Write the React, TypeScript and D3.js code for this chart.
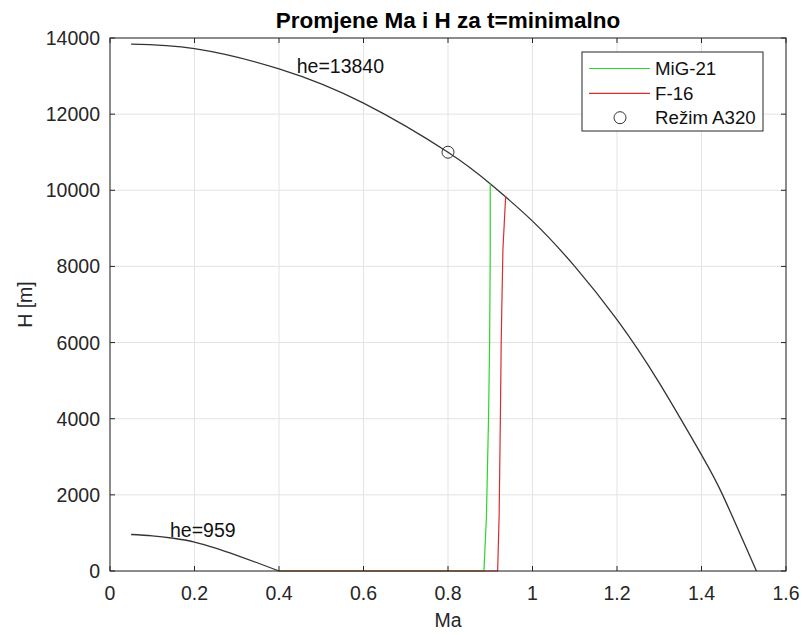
import React from "react";
import * as d3 from "d3";

const xTicks = [0, 0.2, 0.4, 0.6, 0.8, 1, 1.2, 1.4, 1.6];
const yTicks = [0, 2000, 4000, 6000, 8000, 10000, 12000, 14000];

const upperMa = [0.05, 0.2, 0.4, 0.6, 0.8, 0.9, 1.0, 1.1, 1.2, 1.3, 1.4, 1.45, 1.53];
const upperH = [13840, 13720, 13190, 12290, 11000, 10170, 9190, 8000, 6600, 4940, 3050, 2000, 0];

const lowerMa = [0.05, 0.1, 0.15, 0.2, 0.25, 0.3, 0.35, 0.4];
const lowerH = [959, 925, 860, 760, 600, 410, 210, 0];

const migMa = [0.4, 0.885, 0.891, 0.896, 0.8985, 0.9, 0.9];
const migH = [0, 0, 1430, 4060, 6000, 8450, 10180];

const f16Ma = [0.4, 0.9175, 0.921, 0.924, 0.926, 0.93, 0.9365];
const f16H = [0, 0, 1430, 4060, 6080, 8450, 9850];

const pointMa = [0.8];
const pointH = [11000];

const legendLabels = ["MiG-21", "F-16", "Režim A320"];
const annotations = [
  { text: "he=13840", ma: 0.442, h: 13080 },
  { text: "he=959", ma: 0.142, h: 880 },
];

const W = 802, H = 635;
const L = 110, R = 786, T = 38, B = 571;
const FONT = "'Liberation Sans', Arial, Helvetica, sans-serif";

export default function App() {
  const x = d3.scaleLinear().domain([0, 1.6]).range([L, R]);
  const y = d3.scaleLinear().domain([0, 14000]).range([B, T]);
  const smooth = (ma: number[], h: number[]) =>
    d3.line<number>().x((_, i) => x(ma[i])).y((_, i) => y(h[i])).curve(d3.curveNatural)(ma.map((_, i) => i)) || "";
  const lin = (ma: number[], h: number[]) =>
    d3.line<number>().x((_, i) => x(ma[i])).y((_, i) => y(h[i])).curve(d3.curveLinear)(ma.map((_, i) => i)) || "";

  const axisCol = "#262626";
  const gridCol = "#e3e3e3";
  const green = "rgb(40,215,40)";
  const red = "rgb(215,45,45)";
  const tickLen = 5;
  const fs = 19.5;

  const legX = 582, legY = 52, legW = 181, legH = 79;
  const rows = [68.5, 93.3, 117.7];

  return (
    <div style={{ position: "fixed", left: 0, top: 0, width: W, height: H, background: "#fff" }}>
      <svg width={W} height={H} style={{ display: "block", fontFamily: FONT }}>
        <rect x={0} y={0} width={W} height={H} fill="#fff" />
        {xTicks.map((t) => (
          <line key={"gx" + t} x1={x(t)} x2={x(t)} y1={T} y2={B} stroke={gridCol} strokeWidth={1} />
        ))}
        {yTicks.map((t) => (
          <line key={"gy" + t} x1={L} x2={R} y1={y(t)} y2={y(t)} stroke={gridCol} strokeWidth={1} />
        ))}
        <path d={smooth(upperMa, upperH)} fill="none" stroke="#333" strokeWidth={1.3} />
        <path d={smooth(lowerMa, lowerH)} fill="none" stroke="#333" strokeWidth={1.3} />
        <path d={lin(migMa, migH)} fill="none" stroke={green} strokeWidth={1.2} />
        <path d={lin(f16Ma, f16H)} fill="none" stroke={red} strokeWidth={1.2} />
        {pointMa.map((m, i) => (
          <circle key={"p" + i} cx={x(m)} cy={y(pointH[i])} r={6} fill="none" stroke="#333" strokeWidth={1} />
        ))}
        {annotations.map((a) => (
          <text key={a.text} x={x(a.ma)} y={y(a.h)} fontSize={fs} fill="#111">
            {a.text}
          </text>
        ))}
        <rect x={L} y={T} width={R - L} height={B - T} fill="none" stroke={axisCol} strokeWidth={1} />
        {xTicks.map((t) => (
          <g key={"tx" + t}>
            <line x1={x(t)} x2={x(t)} y1={B} y2={B - tickLen} stroke={axisCol} />
            <line x1={x(t)} x2={x(t)} y1={T} y2={T + tickLen} stroke={axisCol} />
            <text x={x(t)} y={600} textAnchor="middle" fontSize={fs} fill={axisCol}>
              {String(t)}
            </text>
          </g>
        ))}
        {yTicks.map((t) => (
          <g key={"ty" + t}>
            <line x1={L} x2={L + tickLen} y1={y(t)} y2={y(t)} stroke={axisCol} />
            <line x1={R} x2={R - tickLen} y1={y(t)} y2={y(t)} stroke={axisCol} />
            <text x={100} y={y(t)} dy="0.36em" textAnchor="end" fontSize={fs} fill={axisCol}>
              {String(t)}
            </text>
          </g>
        ))}
        <text x={(L + R) / 2} y={627} textAnchor="middle" fontSize={fs} fill={axisCol}>
          Ma
        </text>
        <text
          transform={`translate(32,${(T + B) / 2}) rotate(-90)`}
          textAnchor="middle"
          fontSize={fs}
          fill={axisCol}
        >
          H [m]
        </text>
        <text x={(L + R) / 2} y={28} textAnchor="middle" fontSize={22.5} fontWeight="bold" fill="#000">
          Promjene Ma i H za t=minimalno
        </text>
        <rect x={legX} y={legY} width={legW} height={legH} fill="#fff" stroke={axisCol} strokeWidth={1} />
        <line x1={589} x2={650} y1={rows[0]} y2={rows[0]} stroke={green} strokeWidth={1.2} />
        <line x1={589} x2={650} y1={rows[1]} y2={rows[1]} stroke={red} strokeWidth={1.2} />
        <circle cx={620} cy={rows[2]} r={6} fill="none" stroke="#333" strokeWidth={1} />
        {legendLabels.map((lbl, i) => (
          <text key={lbl} x={655} y={rows[i]} dy="0.36em" fontSize={18.7} fill="#111">
            {lbl}
          </text>
        ))}
      </svg>
    </div>
  );
}
